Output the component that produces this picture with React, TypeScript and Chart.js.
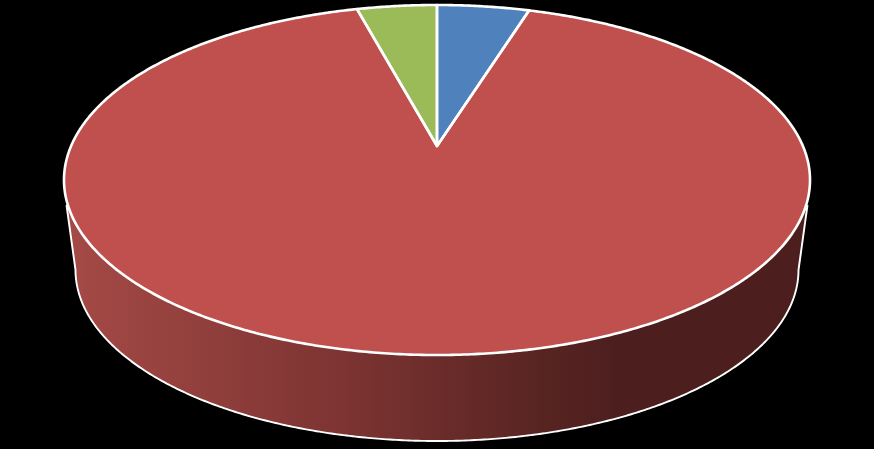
import { useEffect, useRef } from 'react';

import { ArcElement, Chart, PieController } from 'chart.js';

Chart.register(PieController, ArcElement);

const categories = ['A', 'B', 'C'];
const values = [4.82, 91, 4.18];
const sliceColors = ['#4F81BD', '#C0504D', '#9BBB59'];

// projection of the unit disc onto the tilted top face
const apexX = 437;
const apexY = 146;
const scaleX = 365.9;
const scaleY = 168.4;
const tilt = -0.1943;

// rim at the bottom of the side wall
const rimX = 437;
const rimY = 270;
const rimRx = 361.5;
const rimRy = 171;

const project = (angle: number): [number, number] => {
   const u = Math.cos(angle);
   const v = Math.sin(angle);
   const w = 1 + tilt * v;
   return [apexX + (scaleX * u) / w, apexY + (scaleY * v) / w];
};

const tracePolar = (ctx: CanvasRenderingContext2D, from: number, to: number) => {
   const steps = Math.max(2, Math.ceil(Math.abs(to - from) * 120));
   for (let i = 0; i <= steps; i++) {
      const [x, y] = project(from + ((to - from) * i) / steps);
      ctx.lineTo(x, y);
   }
};

const drawWall = (ctx: CanvasRenderingContext2D) => {
   const gradient = ctx.createLinearGradient(64, 0, 810, 0);
   gradient.addColorStop(0, '#A54A47');
   gradient.addColorStop(0.37, '#7D3432');
   gradient.addColorStop(0.64, '#582422');
   gradient.addColorStop(0.74, '#4C1F1E');
   gradient.addColorStop(1, '#4C1F1E');

   const sideY = 205;
   const steps = 360;
   ctx.beginPath();
   ctx.moveTo(66.5, sideY);
   for (let i = 0; i <= steps; i++) {
      const a = Math.PI - (Math.PI * i) / steps;
      ctx.lineTo(rimX + rimRx * Math.cos(a), rimY + rimRy * Math.sin(a));
   }
   ctx.lineTo(807.5, sideY);
   ctx.lineTo(600, 150);
   ctx.lineTo(270, 150);
   ctx.closePath();
   ctx.fillStyle = gradient;
   ctx.fill();

   ctx.beginPath();
   ctx.moveTo(66.5, sideY);
   for (let i = 0; i <= steps; i++) {
      const a = Math.PI - (Math.PI * i) / steps;
      ctx.lineTo(rimX + rimRx * Math.cos(a), rimY + rimRy * Math.sin(a));
   }
   ctx.lineTo(807.5, sideY);
   ctx.strokeStyle = '#FFFFFF';
   ctx.lineWidth = 1.9;
   ctx.lineJoin = 'round';
   ctx.stroke();
};

// draws the slices Chart.js laid out, in 3D perspective
const pie3d = {
   id: 'pie3d',
   beforeDatasetDraw(chart: Chart) {
      const ctx = chart.ctx;
      const arcs = chart.getDatasetMeta(0).data as unknown as ArcElement[];

      ctx.save();
      drawWall(ctx);
      arcs.forEach(arc => {
         ctx.beginPath();
         ctx.moveTo(apexX, apexY);
         tracePolar(ctx, arc.startAngle, arc.endAngle);
         ctx.closePath();
         ctx.fillStyle = arc.options.backgroundColor;
         ctx.fill();
      });
      arcs.forEach(arc => {
         ctx.beginPath();
         ctx.moveTo(apexX, apexY);
         tracePolar(ctx, arc.startAngle, arc.endAngle);
         ctx.closePath();
         ctx.strokeStyle = arc.options.borderColor;
         ctx.lineWidth = arc.options.borderWidth;
         ctx.lineJoin = 'round';
         ctx.stroke();
      });
      ctx.restore();
      return false;
   },
};

export default function App() {
   const canvasRef = useRef<HTMLCanvasElement>(null);

   useEffect(() => {
      const canvas = canvasRef.current;
      if (canvas) {
         const chart = new Chart(canvas, {
            type: 'pie',
            data: {
               labels: categories,
               datasets: [
                  {
                     data: values,
                     backgroundColor: sliceColors,
                     borderColor: '#FFFFFF',
                     borderWidth: 2.6,
                  },
               ],
            },
            options: {
               responsive: false,
               animation: false,
               plugins: {
                  legend: { display: false },
                  tooltip: { enabled: false },
               },
            },
            plugins: [pie3d],
         });

         return () => {
            chart.destroy();
         };
      }
   }, []);

   return (
      <>
         <style>{'body { margin: 0; background: #000; overflow: hidden; }'}</style>
         <canvas
            ref={canvasRef}
            width={874}
            height={449}
            style={{ display: 'block', background: '#000' }}
         />
      </>
   );
}
